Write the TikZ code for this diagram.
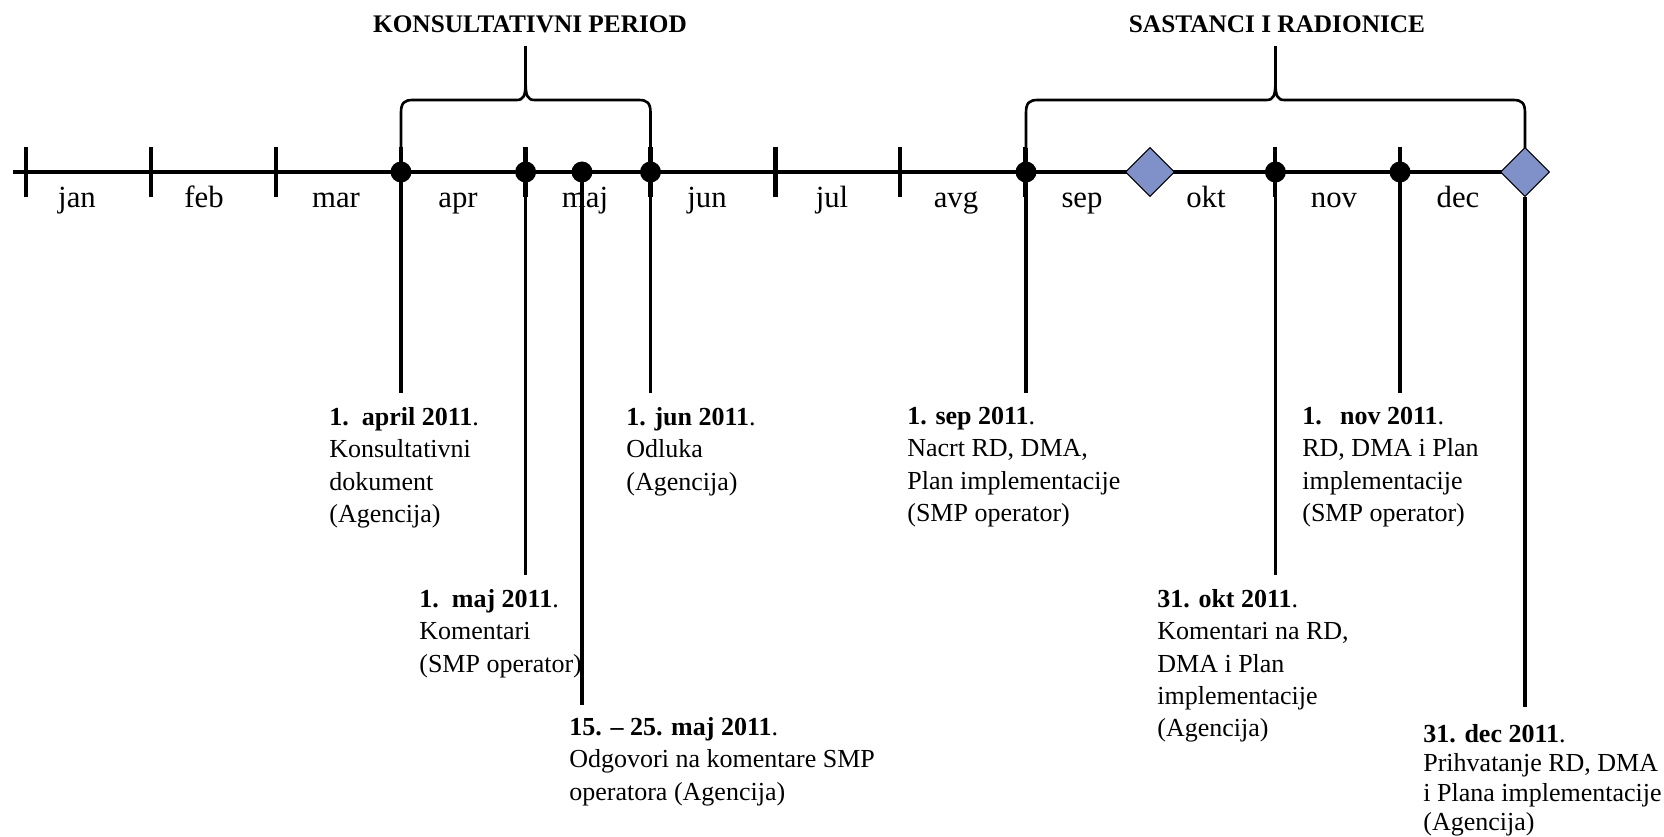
\documentclass[tikz,border=0pt]{standalone}
\usepackage{fontspec}
\setmainfont{Liberation Serif}
\usetikzlibrary{shapes.geometric}

\definecolor{meetblue}{RGB}{128,144,200}

\tikzset{
  axisline/.style={line width=2.8pt},
  monthtick/.style={line width=2.4pt},
  eventline/.style={line width=2pt},
  bracket/.style={line width=1.5pt, line join=round},
  eventdot/.style={circle, fill=black, inner sep=0pt, minimum size=0.42cm},
  meeting/.style={diamond, draw=black, line width=0.6pt, fill=meetblue, inner sep=0pt, minimum width=0.98cm, minimum height=0.98cm},
  month/.style={font=\fontsize{17.5}{20}\selectfont, anchor=base, inner sep=0pt},
  event/.style={font=\fontsize{14.8}{18.4}\selectfont, align=left, anchor=north west, inner sep=0pt},
  period/.style={font=\bfseries\fontsize{14.4}{17}\selectfont, anchor=base, inner sep=0pt}
}

\begin{document}
\begin{tikzpicture}[x=0.02cm,y=-0.02cm]
  \useasboundingbox (0,0) rectangle (1664,837);

  % time axis and month ticks
  \draw[axisline] (13,172) -- (1525,172);
  \foreach \k in {0,...,8,10,11}
    \draw[monthtick] (26+124.9*\k,147) -- (26+124.9*\k,197);
  \foreach \name/\x in {jan/77, feb/204, mar/336, apr/458, maj/585, jun/707,
                        jul/832, avg/956, sep/1082, okt/1206, nov/1334, dec/1458}
    \node[month] (\name) at (\x,208) {\name};

  % periods
  \node[period] (consult) at (530,33) {KONSULTATIVNI PERIOD};
  \node[period] (workshops) at (1277,33) {SASTANCI I RADIONICE};
  \coordinate (consulttip) at (525.6,46);
  \coordinate (workshopstip) at (1275.4,46);
  \foreach \lx/\cx/\rx/\ry in {401/525.6/650.5/150, 1026/1275.4/1525/148}
  {
    \draw[bracket] (\lx,150) -- (\lx,113) .. controls (\lx,103) and (\lx+3,100) .. (\lx+12,100)
      -- (\cx-9,100) .. controls (\cx-2,100) and (\cx,96) .. (\cx,82)
      .. controls (\cx,96) and (\cx+2,100) .. (\cx+9,100)
      -- (\rx-12,100) .. controls (\rx-3,100) and (\rx,103) .. (\rx,113) -- (\rx,\ry);
  }
  \draw[bracket] (525.6,84) -- (consulttip);
  \draw[bracket] (1275.4,84) -- (workshopstip);

  % free ends of the event lines
  \coordinate (aprend) at (401,393);
  \coordinate (majend) at (525.6,575);
  \coordinate (midend) at (582,705);
  \coordinate (junend) at (650.5,393);
  \coordinate (sepend) at (1026,393);
  \coordinate (oktend) at (1275.4,575);
  \coordinate (novend) at (1400,393);
  \coordinate (decend) at (1525,707);

  % events on the axis
  \node[eventdot] (aprdot) at (401,172) {};
  \node[eventdot] (majdot) at (525.6,172) {};
  \node[eventdot] (middot) at (582,172) {};
  \node[eventdot] (jundot) at (650.5,172) {};
  \node[eventdot] (sepdot) at (1026,172) {};
  \node[eventdot] (oktdot) at (1275.4,172) {};
  \node[eventdot] (novdot) at (1400,172) {};
  \node[meeting] (meetone) at (1150,172) {};
  \node[meeting] (meettwo) at (1525,172) {};

  \draw[eventline] ([yshift=0.48cm]aprdot.center) -- (aprend);
  \draw[eventline] ([yshift=0.48cm]majdot.center) -- (majend);
  \draw[eventline] (middot.center) -- (midend);
  \draw[eventline] ([yshift=0.48cm]jundot.center) -- (junend);
  \draw[eventline] ([yshift=0.48cm]sepdot.center) -- (sepend);
  \draw[eventline] ([yshift=0.48cm]oktdot.center) -- (oktend);
  \draw[eventline] ([yshift=0.48cm]novdot.center) -- (novend);
  \draw[eventline] (meettwo.south) -- (decend);

  % event texts
  \node[event] (aprtext) at (329,407) {\textbf{1.\ \ april 2011}.\\Konsultativni\\dokument\\(Agencija)};
  \node[event] (majtext) at (419,589) {\textbf{1.\ \ maj 2011}.\\Komentari\\(SMP operator)};
  \node[event] (midtext) at (569,717) {\textbf{15. \textendash{} 25. maj 2011}.\\Odgovori na komentare SMP\\operatora (Agencija)};
  \node[event] (juntext) at (626,407) {\textbf{1. jun 2011}.\\Odluka\\(Agencija)};
  \node[event] (septext) at (907,407) {\textbf{1. sep 2011}.\\Nacrt RD, DMA,\\Plan implementacije\\(SMP operator)};
  \node[event] (okttext) at (1157,589) {\textbf{31. okt 2011}.\\Komentari na RD,\\DMA i Plan\\implementacije\\(Agencija)};
  \node[event] (novtext) at (1302,407) {\textbf{1.\hspace{0.7em}nov 2011}.\\RD, DMA i Plan\\implementacije\\(SMP operator)};
  \node[event, font=\fontsize{14.8}{16.8}\selectfont] (dectext) at (1423,724) {\textbf{31. dec 2011}.\\Prihvatanje RD, DMA\\i Plana implementacije\\(Agencija)};
\end{tikzpicture}
\end{document}
